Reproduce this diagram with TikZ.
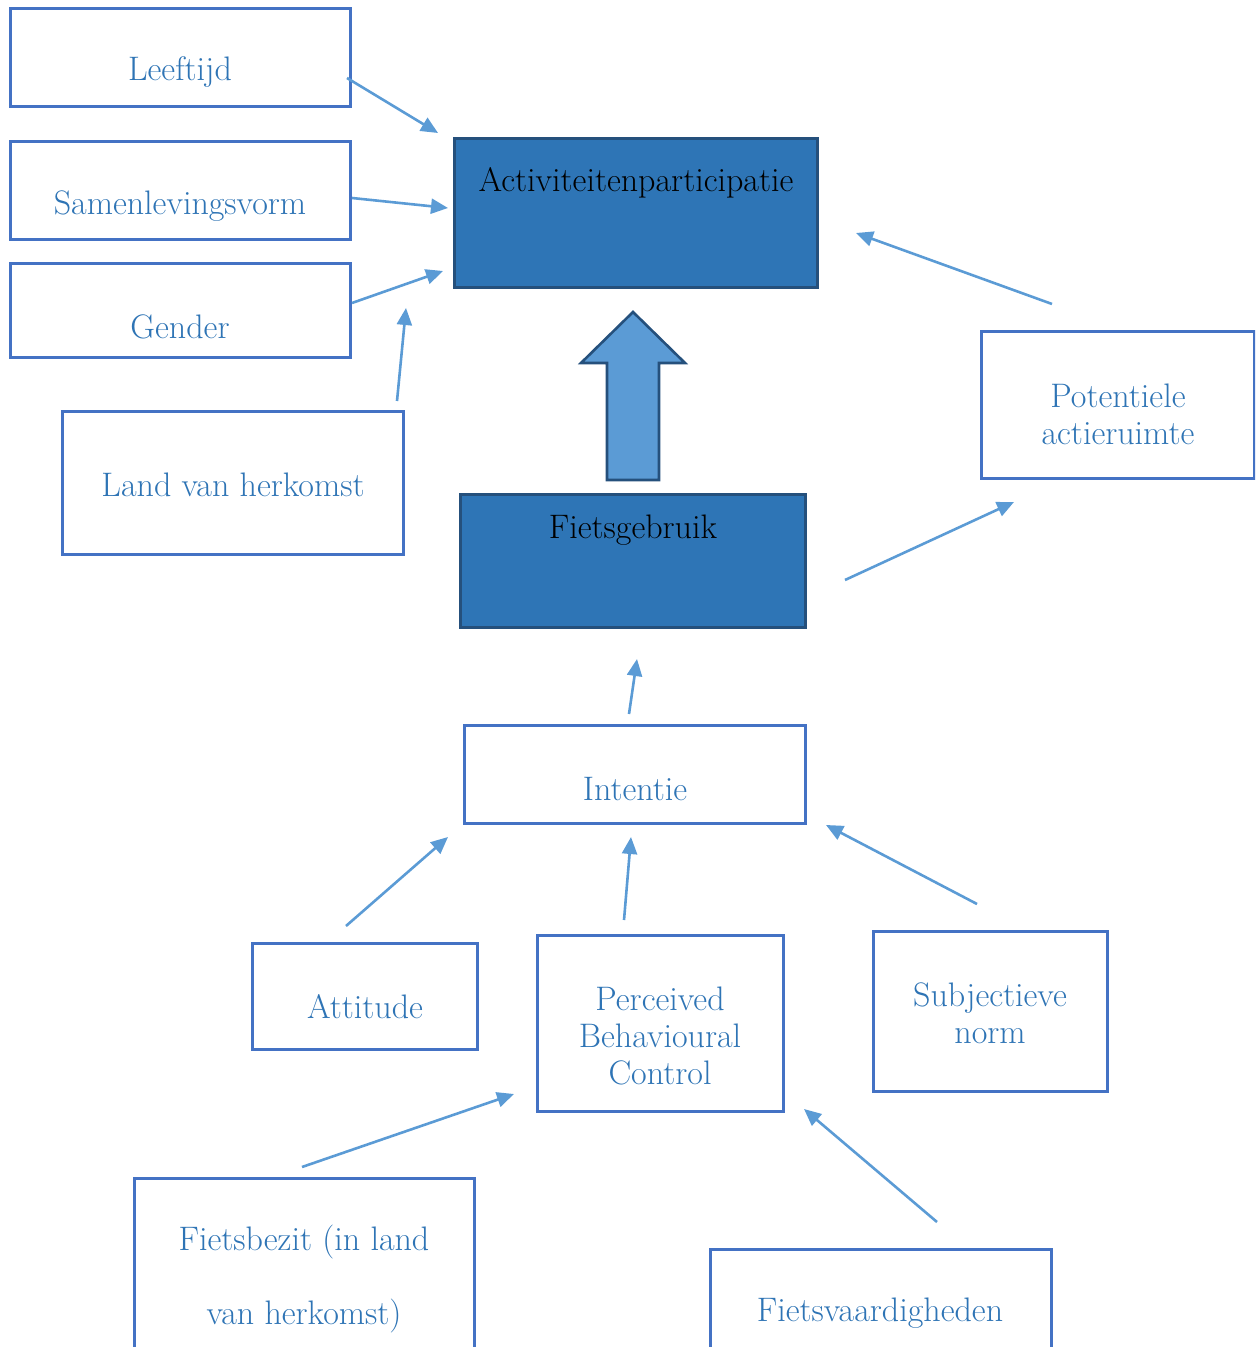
\documentclass[tikz,border=0pt]{standalone}
\usepackage{tikz}
\usetikzlibrary{arrows.meta}

\definecolor{boxline}{RGB}{68,114,196}
\definecolor{txtblue}{RGB}{46,116,181}
\definecolor{arrowblue}{RGB}{91,155,213}
\definecolor{mainfill}{RGB}{46,117,182}
\definecolor{darkline}{RGB}{37,80,124}

\begin{document}
\begin{tikzpicture}[x=0.5pt,y=-0.5pt]
    \tikzstyle{box}=[draw=boxline, line width=1.5pt, fill=white, inner sep=0pt]
    \tikzstyle{mainbox}=[draw=darkline, line width=1.5pt, fill=mainfill, inner sep=0pt]
    \tikzstyle{lbl}=[text=txtblue, font=\fontsize{17}{18.5}\selectfont, align=center]
    \tikzstyle{mainlbl}=[lbl, text=black]
    \tikzstyle{arr}=[-{Triangle[length=8.5pt,width=7.5pt]}, draw=arrowblue, line width=1.3pt]
    \clip (0,0) rectangle (1255,1347);
    % achtergrond
    \node[box, minimum width=170pt, minimum height=49pt] (leeftijd) at (180,58) {};
    \node[lbl] (leeftijdtxt) at (180,72) {Leeftijd};
    \node[box, minimum width=170pt, minimum height=49pt] (samen) at (180,191) {};
    \node[lbl] (samentxt) at (180,206) {Samenlevingsvorm};
    \node[box, minimum width=170pt, minimum height=47pt] (gender) at (180,311) {};
    \node[lbl] (gendertxt) at (180,327) {Gender};
    \node[box, minimum width=170.5pt, minimum height=71pt] (land) at (232.5,483) {};
    \node[lbl] (landtxt) at (233,485) {Land van herkomst};
    % hoofdblokken
    \node[mainbox, minimum width=181.5pt, minimum height=74.5pt] (activ) at (635.5,213.5) {};
    \node[mainlbl] (activtxt) at (636,183) {Activiteitenparticipatie};
    \node[mainbox, minimum width=172.5pt, minimum height=66.5pt] (fiets) at (632.5,560.5) {};
    \node[mainlbl] (fietstxt) at (633,530) {Fietsgebruik};
    \node[box, minimum width=136.5pt, minimum height=73pt] (potent) at (1117.5,405) {};
    \node[lbl] (potenttxt) at (1118,414) {Potentiele\\actieruimte};
    % gedragsmodel
    \node[box, minimum width=170.5pt, minimum height=49pt] (intentie) at (634.5,774) {};
    \node[lbl] (intentietxt) at (635,789) {Intentie};
    \node[box, minimum width=112.5pt, minimum height=53pt] (attitude) at (364.5,996) {};
    \node[lbl] (attitudetxt) at (365,1007) {Attitude};
    \node[box, minimum width=123pt, minimum height=88pt] (pbc) at (660,1023) {};
    \node[lbl] (pbctxt) at (660,1036) {Perceived\\Behavioural\\Control};
    \node[box, minimum width=117pt, minimum height=80pt] (subj) at (990,1011) {};
    \node[lbl] (subjtxt) at (990,1013) {Subjectieve\\norm};
    \node[box, minimum width=170pt, minimum height=111pt] (bezit) at (304,1289) {};
    \node[lbl] (bezittxt) at (304,1279) {Fietsbezit (in land\\[18.5pt]van herkomst)};
    \node[box, minimum width=170.5pt, minimum height=76pt] (vaard) at (880.5,1325) {};
    \node[lbl] (vaardtxt) at (880,1313) {Fietsvaardigheden};
    % losse pijlen
    \coordinate (leeftijd-uit) at (347,78);
    \coordinate (activ-in1) at (438,133);
    \coordinate (samen-uit) at (352,198);
    \coordinate (activ-in2) at (448,208);
    \coordinate (gender-uit) at (352,303);
    \coordinate (activ-in3) at (443,271);
    \coordinate (land-uit) at (397,401);
    \coordinate (activ-in4) at (406,308);
    \coordinate (potent-uit) at (1052,304);
    \coordinate (activ-in5) at (856,233);
    \coordinate (fiets-uit) at (845,580);
    \coordinate (potent-in) at (1014,502);
    \coordinate (intentie-uit) at (629,714);
    \coordinate (fiets-in) at (637,659);
    \coordinate (attitude-uit) at (346,926);
    \coordinate (intentie-in1) at (448,837);
    \coordinate (pbc-uit) at (624,920);
    \coordinate (intentie-in2) at (631,837);
    \coordinate (subj-uit) at (977,904);
    \coordinate (intentie-in3) at (826,825);
    \coordinate (bezit-uit) at (302,1167);
    \coordinate (pbc-in1) at (514,1094);
    \coordinate (vaard-uit) at (937,1222);
    \coordinate (pbc-in2) at (804,1109);
    \draw[arr] (leeftijd-uit) -- (activ-in1);
    \draw[arr] (samen-uit) -- (activ-in2);
    \draw[arr] (gender-uit) -- (activ-in3);
    \draw[arr] (land-uit) -- (activ-in4);
    \draw[arr] (potent-uit) -- (activ-in5);
    \draw[arr] (fiets-uit) -- (potent-in);
    \draw[arr] (intentie-uit) -- (fiets-in);
    \draw[arr] (attitude-uit) -- (intentie-in1);
    \draw[arr] (pbc-uit) -- (intentie-in2);
    \draw[arr] (subj-uit) -- (intentie-in3);
    \draw[arr] (bezit-uit) -- (pbc-in1);
    \draw[arr] (vaard-uit) -- (pbc-in2);
    % blokpijl
    \draw[draw=darkline, line width=1.3pt, fill=arrowblue, line join=miter]
      (607,480) -- (607,363) -- (581,363) -- (633,312) -- (685,363)
      -- (659,363) -- (659,480) -- cycle;
\end{tikzpicture}
\end{document}
